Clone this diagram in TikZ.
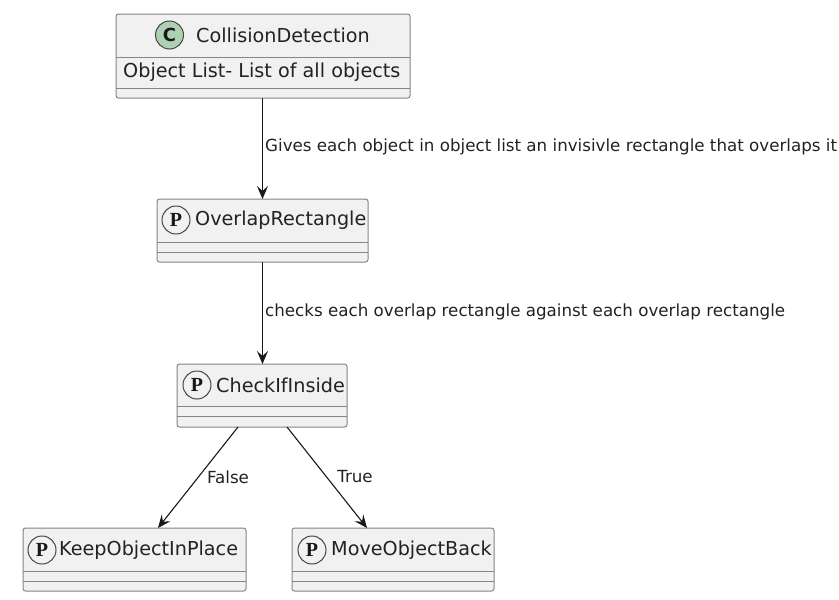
\documentclass[tikz,border=0pt]{standalone}
\usepackage{fontspec}
\setmainfont{DejaVu Sans}
\newfontfamily\spotfont{Liberation Serif}
\usetikzlibrary{arrows.meta}
\definecolor{boxfill}{HTML}{F1F1F1}
\definecolor{boxline}{HTML}{858585}
\definecolor{spotgreen}{HTML}{ADD1B2}
\definecolor{ink}{HTML}{181818}
\definecolor{txt}{HTML}{222222}
\begin{document}
\begin{tikzpicture}[x=1pt,y=-1pt,
  umlbox/.style={draw=boxline, fill=boxfill, rounded corners=2.5pt, line width=1pt, inner sep=0pt, outer sep=0pt, anchor=north west},
  sepline/.style={draw=boxline, line width=1pt},
  nametext/.style={text=txt, inner sep=0pt, anchor=west, font=\fontsize{19.2}{23}\selectfont},
  spot/.style={circle, draw=ink!80, line width=1pt, minimum size=28pt, inner sep=0pt, text=ink},
  conn/.style={draw=ink, line width=1.1pt, -{Stealth[length=13pt,width=11pt,inset=5pt]}},
  lbl/.style={text=txt, inner sep=0pt, font=\fontsize{16.7}{20}\selectfont}
]
\path[use as bounding box] (0,0) rectangle (839,600);

% CollisionDetection
\node[umlbox, minimum width=294pt, minimum height=84pt] (cd) at (116,14) {};
\draw[sepline] (116,57) -- (410,57);
\draw[sepline] (116,88) -- (410,88);
\node[spot, fill=spotgreen, font=\fontsize{18}{18}\selectfont\bfseries] (cdspot) at (169.5,35) {C};
\node[nametext] (cdname) at (196,35) {CollisionDetection};
\node[nametext] (cdattr) at (123,72) {Object List- List of all objects};

% OverlapRectangle
\node[umlbox, minimum width=211pt, minimum height=63pt] (orect) at (157,199) {};
\draw[sepline] (157,242) -- (368,242);
\draw[sepline] (157,252) -- (368,252);
\node[spot, fill=boxfill, font=\spotfont\fontsize{20}{20}\selectfont\bfseries] (orspot) at (176,220) {P};
\node[nametext] (orname) at (195,220) {OverlapRectangle};

% CheckIfInside
\node[umlbox, minimum width=170pt, minimum height=63pt] (ci) at (177,364) {};
\draw[sepline] (177,406) -- (347,406);
\draw[sepline] (177,416) -- (347,416);
\node[spot, fill=boxfill, font=\spotfont\fontsize{20}{20}\selectfont\bfseries] (cispot) at (197,385) {P};
\node[nametext] (ciname) at (216,385) {CheckIfInside};

% KeepObjectInPlace
\node[umlbox, minimum width=223pt, minimum height=63pt] (keep) at (23,528) {};
\draw[sepline] (23,571) -- (246,571);
\draw[sepline] (23,581) -- (246,581);
\node[spot, fill=boxfill, font=\spotfont\fontsize{20}{20}\selectfont\bfseries] (keepspot) at (42,550) {P};
\node[nametext] (keepname) at (59,550) {KeepObjectInPlace};

% MoveObjectBack
\node[umlbox, minimum width=202pt, minimum height=63pt] (move) at (292,528) {};
\draw[sepline] (292,571) -- (494,571);
\draw[sepline] (292,581) -- (494,581);
\node[spot, fill=boxfill, font=\spotfont\fontsize{20}{20}\selectfont\bfseries] (movespot) at (312,550) {P};
\node[nametext] (movename) at (331,550) {MoveObjectBack};

% connectors
\draw[conn] (orect.north |- cd.south) -- (orect.north);
\draw[conn] (orect.south) -- (orect.south |- ci.north);
\draw[conn] ([xshift=-24pt]ci.south) -- ([xshift=23.5pt]keep.north);
\draw[conn] ([xshift=25pt]ci.south) -- ([xshift=-26pt]move.north);

% labels
\node[lbl, anchor=west] (l1) at (265,147) {Gives each object in object list an invisivle rectangle that overlaps it};
\node[lbl, anchor=west] (l2) at (265,312) {checks each overlap rectangle against each overlap rectangle};
\node[lbl] (l3) at (228,477) {False};
\node[lbl] (l4) at (355,477) {True};
\end{tikzpicture}
\end{document}
